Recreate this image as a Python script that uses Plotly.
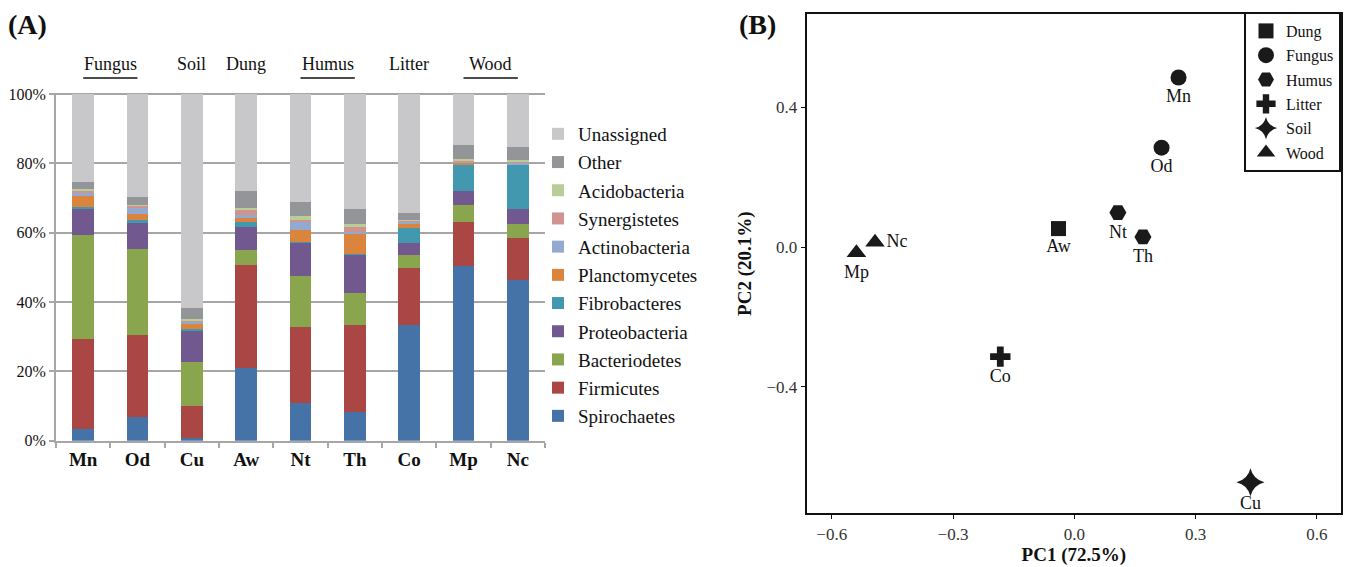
import plotly.graph_objects as go

# ---------------- data ----------------
samples = ["Mn", "Od", "Cu", "Aw", "Nt", "Th", "Co", "Mp", "Nc"]
sample_groups = ["Fungus", "Fungus", "Soil", "Dung", "Humus", "Humus", "Litter", "Wood", "Wood"]

spirochaetes   = [3.3, 6.7, 0.9, 21.1, 10.8, 8.4, 33.5, 50.3, 46.3]
firmicutes     = [26.0, 23.8, 9.1, 29.5, 22.1, 25.1, 16.4, 12.8, 12.1]
bacteriodetes  = [30.0, 24.8, 12.6, 4.3, 14.7, 9.0, 3.8, 4.9, 4.1]
proteobacteria = [7.8, 7.5, 9.4, 6.8, 9.7, 11.4, 3.2, 3.9, 4.3]
fibrobacteres  = [0.2, 0.8, 0.1, 1.5, 0.1, 0.1, 4.6, 8.0, 12.9]
planctomycetes = [3.2, 1.7, 1.7, 1.1, 3.4, 5.7, 1.3, 0.5, 0.1]
actinobacteria = [1.0, 1.9, 0.7, 0.8, 2.3, 0.6, 0.5, 0.2, 0.5]
synergistetes  = [0.7, 0.7, 0.2, 1.6, 0.6, 1.7, 0.2, 0.1, 0.1]
acidobacteria  = [0.3, 0.2, 0.3, 0.5, 1.1, 0.5, 0.2, 0.7, 0.7]
other          = [2.0, 2.1, 3.3, 4.8, 4.2, 4.3, 2.0, 3.8, 3.5]
unassigned     = [25.5, 29.8, 61.7, 28.0, 31.0, 33.2, 34.3, 14.8, 15.4]

phyla = [
    ("Spirochaetes", spirochaetes, "#4572A7"),
    ("Firmicutes", firmicutes, "#AA4643"),
    ("Bacteriodetes", bacteriodetes, "#89A54E"),
    ("Proteobacteria", proteobacteria, "#71588F"),
    ("Fibrobacteres", fibrobacteres, "#4198AF"),
    ("Planctomycetes", planctomycetes, "#DB843D"),
    ("Actinobacteria", actinobacteria, "#93A9CF"),
    ("Synergistetes", synergistetes, "#D19392"),
    ("Acidobacteria", acidobacteria, "#B9CD96"),
    ("Other", other, "#939598"),
    ("Unassigned", unassigned, "#C8C8CA"),
]

pct_ticks = [0, 20, 40, 60, 80, 100]

# PCA coordinates
pc1 = [0.258, 0.216, 0.436, -0.039, 0.108, 0.170, -0.183, -0.539, -0.493]
pc2 = [0.486, 0.285, -0.674, 0.053, 0.099, 0.029, -0.314, -0.016, 0.014]
pca_groups = ["Dung", "Fungus", "Humus", "Litter", "Soil", "Wood"]
pca_symbols = ["square", "circle", "hexagon2", "cross", "star-diamond", "triangle-up"]
pca_sizes = [15, 16, 17, 17, 20, 17]
pc1_ticks = [-0.6, -0.3, 0.0, 0.3, 0.6]
pc2_ticks = [-0.4, 0.0, 0.4]

SERIF = "'Liberation Serif', 'Times New Roman', Times, serif"
GRID = "#A6A6A6"
INK = "#111111"

fig = go.Figure()

# ---------------- (A) stacked bars ----------------
n_phyla = len(phyla)
for i, (name, vals, col) in enumerate(phyla):
    fig.add_trace(go.Bar(
        x=samples, y=vals, name=name, legendgroup=name, legendrank=n_phyla - i,
        marker=dict(color=col, line=dict(width=0)),
        xaxis="x", yaxis="y", legend="legend",
    ))

# ---------------- (B) PCA scatter ----------------
for k, (g, sym, sz) in enumerate(zip(pca_groups, pca_symbols, pca_sizes)):
    idx = [i for i, sg in enumerate(sample_groups) if sg == g]
    xs = [pc1[i] for i in idx]
    ys = [pc2[i] for i in idx]
    labels = [samples[i] for i in idx]
    tpos = ["middle right" if samples[i] == "Nc" else "bottom center" for i in idx]
    fig.add_trace(go.Scatter(
        x=xs, y=ys, mode="markers+text", name=g, legendgroup=g, legendrank=k + 1,
        text=labels, textposition=tpos,
        textfont=dict(family=SERIF, size=18, color=INK),
        marker=dict(symbol=sym, size=sz, color="#1a1a1a", line=dict(width=0)),
        cliponaxis=False,
        xaxis="x2", yaxis="y2", legend="legend2",
    ))

# group labels above bars
annotations = []
shapes = []
seen = []
for g in sample_groups:
    if g not in seen:
        seen.append(g)
for g in seen:
    idx = [i for i, sg in enumerate(sample_groups) if sg == g]
    cx = (idx[0] + idx[-1]) / 2
    annotations.append(dict(x=cx, y=1 - 64 / 567, xref="x", yref="paper", text=g,
                            showarrow=False, font=dict(family=SERIF, size=18, color=INK),
                            xanchor="center", yanchor="middle"))
    if len(idx) > 1:
        shapes.append(dict(type="line", xref="x", yref="paper", x0=idx[0], x1=idx[-1],
                           y0=1 - 78 / 567, y1=1 - 78 / 567,
                           line=dict(color=INK, width=1.5)))

annotations.append(dict(x=27 / 1350, y=1 - 24 / 567, xref="paper", yref="paper", text="<b>(A)</b>",
                        showarrow=False, font=dict(family=SERIF, size=28, color=INK),
                        xanchor="center", yanchor="middle"))
annotations.append(dict(x=757 / 1350, y=1 - 24 / 567, xref="paper", yref="paper", text="<b>(B)</b>",
                        showarrow=False, font=dict(family=SERIF, size=28, color=INK),
                        xanchor="center", yanchor="middle"))

fig.update_layout(
    width=1350, height=567, autosize=False,
    margin=dict(l=0, r=0, t=0, b=0, autoexpand=False),
    paper_bgcolor="white", plot_bgcolor="white",
    barmode="stack", bargap=0.6,
    font=dict(family=SERIF, color=INK),
    xaxis=dict(domain=[56 / 1350, 545 / 1350], showline=True, linecolor=GRID, linewidth=2,
               ticks="outside", tickson="boundaries", ticklen=5, tickcolor=GRID, tickwidth=2,
               tickfont=dict(family=SERIF, size=19, color=INK),
               tickprefix="<b>", ticksuffix="</b>", showgrid=False, zeroline=False,
               fixedrange=True),
    yaxis=dict(domain=[1 - 440.7 / 567, 1 - 92.7 / 567], range=[0, 100.4],
               tickvals=pct_ticks, ticktext=[f"{v}%" for v in pct_ticks],
               showline=True, linecolor=GRID, linewidth=2, ticks="outside", ticklen=5,
               tickcolor=GRID, tickwidth=2, showgrid=True, gridcolor=GRID, gridwidth=2,
               zeroline=False, tickfont=dict(family=SERIF, size=16, color=INK)),
    xaxis2=dict(domain=[806.7 / 1350, 1341 / 1350], range=[-0.662, 0.660],
                tickvals=pc1_ticks, tickformat=".1f", showline=True, mirror=True,
                linecolor=INK, linewidth=2, ticks="outside", ticklen=4, tickcolor=INK,
                showgrid=False, zeroline=False, anchor="y2",
                tickfont=dict(family=SERIF, size=17, color="#333"),
                title=dict(text="<b>PC1 (72.5%)</b>", font=dict(family=SERIF, size=19, color=INK),
                           standoff=0)),
    yaxis2=dict(domain=[1 - 513.3 / 567, 1 - 14 / 567], range=[-0.763, 0.668],
                tickvals=pc2_ticks, tickformat=".1f", showline=True, mirror=True,
                linecolor=INK, linewidth=2, ticks="outside", ticklen=4, tickcolor=INK,
                showgrid=False, zeroline=False, anchor="x2",
                tickfont=dict(family=SERIF, size=17, color="#333"),
                title=dict(text="<b>PC2 (20.1%)</b>", font=dict(family=SERIF, size=19, color=INK),
                           standoff=10)),
    legend=dict(x=538 / 1350, y=1 - 115 / 567, xanchor="left", yanchor="top",
                traceorder="grouped", tracegroupgap=0.5,
                font=dict(family=SERIF, size=19, color=INK), bgcolor="rgba(0,0,0,0)"),
    legend2=dict(x=1341 / 1350, y=1 - 12 / 567, xanchor="right", yanchor="top",
                 traceorder="grouped", tracegroupgap=0.5, itemsizing="trace",
                 font=dict(family=SERIF, size=16, color=INK), bgcolor="white",
                 bordercolor=INK, borderwidth=2),
    annotations=annotations, shapes=shapes, showlegend=True,
)

fig.write_html("out.html", config={"displayModeBar": False},
               post_script="document.body.style.margin='0';")
